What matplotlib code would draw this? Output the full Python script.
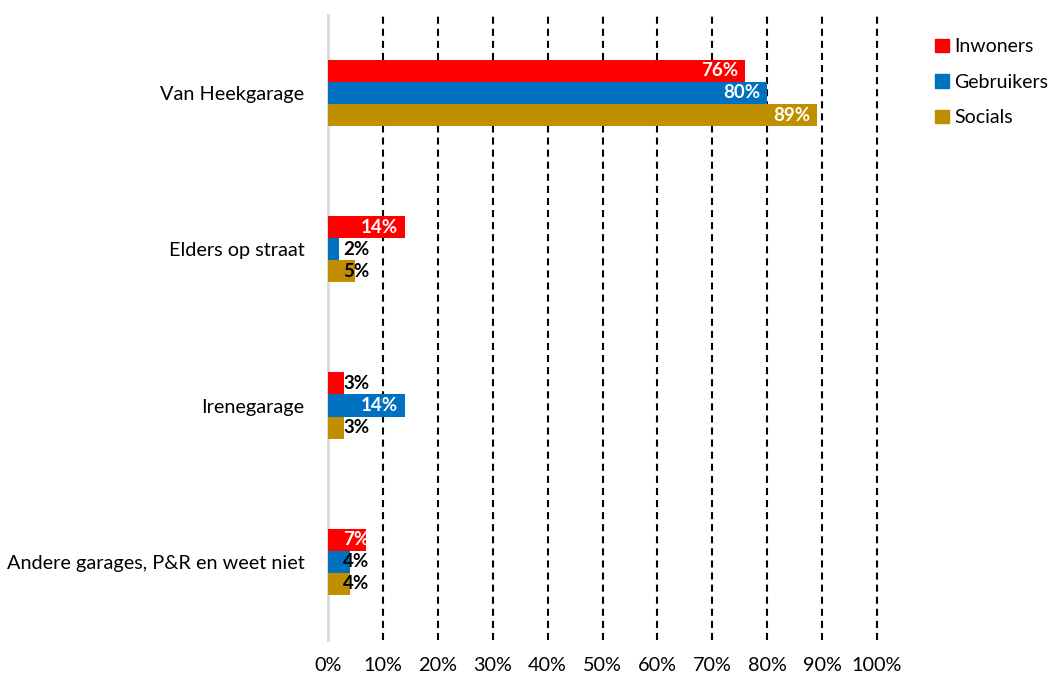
import matplotlib.pyplot as plt
import numpy as np
from matplotlib.patches import Patch

plt.rcParams['font.family'] = ['Lato', 'DejaVu Sans']

categories = ["Van Heekgarage", "Elders op straat", "Irenegarage",
              "Andere garages, P&R en weet niet"]
series = ["Inwoners", "Gebruikers", "Socials"]
inwoners = [76, 14, 3, 7]
gebruikers = [80, 2, 14, 4]
socials = [89, 5, 3, 4]
colors = ["#FF0000", "#0070C0", "#BF8F00"]
ticks = [0, 10, 20, 30, 40, 50, 60, 70, 80, 90, 100]

fig = plt.figure(figsize=(10.53, 6.75), dpi=100)
ax = fig.add_axes([0.3115, 0.052, 0.5214, 0.926])

y = np.arange(len(categories))
h = 0.141
values = [inwoners, gebruikers, socials]
for i, (vals, col) in enumerate(zip(values, colors)):
    ypos = y + (i - 1) * h
    ax.barh(ypos, vals, height=h, color=col, zorder=3)
    for yy, v in zip(ypos, vals):
        if v >= 10:
            ax.text(v - 1.2, yy, f"{v}%", ha="right", va="center",
                    color="white", fontsize=13.5, fontweight="bold", zorder=4)
        else:
            c = "white" if v >= 7 else "black"
            ax.text(5.1, yy, f"{v}%", ha="center", va="center",
                    color=c, fontsize=13.5, fontweight="bold", zorder=4)

ax.set_ylim(len(categories) - 0.5, -0.5)
ax.set_xlim(0, 100)
ax.set_yticks(y)
ax.set_yticklabels(categories, fontsize=14.3)
ax.set_xticks(ticks)
ax.set_xticklabels([f"{t}%" for t in ticks], fontsize=14.3)
ax.tick_params(axis="both", length=0)
ax.tick_params(axis="x", pad=12)
ax.tick_params(axis="y", pad=17)

for t in ticks[1:]:
    ax.axvline(t, color="black", lw=1.5, linestyle=(0, (3.4, 2.4)),
               zorder=1, clip_on=False)

for s in ["top", "right", "bottom"]:
    ax.spines[s].set_visible(False)
ax.spines["left"].set_color("#D9D9D9")
ax.spines["left"].set_linewidth(2)
ax.spines["left"].set_zorder(2)

handles = [Patch(color=c, label=s) for c, s in zip(colors, series)]
fig.legend(handles=handles, loc="upper left", bbox_to_anchor=(0.888, 0.943),
           frameon=False, fontsize=14, handlelength=0.7, handleheight=0.7,
           handletextpad=0.3, labelspacing=0.95, borderpad=0, borderaxespad=0)

fig.savefig("out.png", dpi=100)
